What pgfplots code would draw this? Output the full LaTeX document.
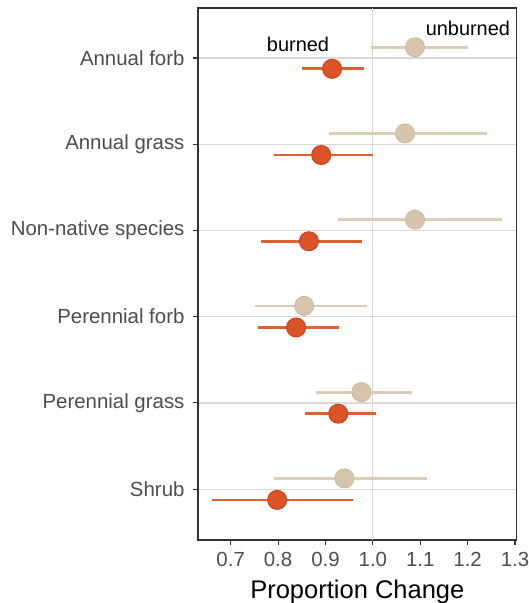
\documentclass[border=0pt]{standalone}
\usepackage{fontspec}
\setmainfont{Liberation Sans}
\usepackage{pgfplots}
\pgfplotsset{compat=1.18}
\definecolor{burn}{HTML}{DA5428}
\definecolor{burnedge}{HTML}{CC4217}
\definecolor{burnline}{HTML}{E0602F}
\definecolor{unb}{HTML}{D6C4AD}
\definecolor{unbedge}{HTML}{CFBBA2}
\definecolor{unbline}{HTML}{DCCCB8}
\definecolor{gridc}{HTML}{D9D9D9}
\definecolor{framec}{HTML}{333333}
\definecolor{tickc}{HTML}{4D4D4D}
\begin{document}
\begin{tikzpicture}
\begin{axis}[
  scale only axis, width=318.7bp, height=532bp,
  xmin=0.631, xmax=1.3036, ymin=0.41, ymax=6.58,
  xtick={0.7,0.8,0.9,1.0,1.1,1.2,1.3},
  xticklabels={0.7,0.8,0.9,1.0,1.1,1.2,1.3},
  ytick={1,2,3,4,5,6},
  yticklabels={Shrub,Perennial grass,Perennial forb,Non-native species,Annual grass,Annual forb},
  ymajorgrids, grid style={gridc, line width=1.2bp},
  tick align=outside, major tick length=5bp, tick pos=left,
  tick style={framec, line width=1.1bp},
  axis line style={framec, line width=1.2bp},
  ticklabel style={font=\fontsize{20.5}{21}\selectfont, text=tickc},
  yticklabel style={xshift=-5bp},
  xticklabel style={yshift=-4bp},
  xlabel={Proportion Change},
  xlabel style={font=\fontsize{25.6}{26}\selectfont, text=black, yshift=-6bp},
  unbounded coords=jump,
]
\addplot[gridc, line width=1.2bp] coordinates {(1,0.41) (1,6.58)};
% unburned intervals
\addplot[unbline, line width=2.8bp] coordinates {
 (0.996,6.125) (1.200,6.125) (nan,nan)
 (0.907,5.125) (1.241,5.125) (nan,nan)
 (0.927,4.125) (1.273,4.125) (nan,nan)
 (0.751,3.125) (0.988,3.125) (nan,nan)
 (0.880,2.125) (1.083,2.125) (nan,nan)
 (0.791,1.125) (1.115,1.125)
};
% burned intervals
\addplot[burnline, line width=2.8bp] coordinates {
 (0.850,5.875) (0.982,5.875) (nan,nan)
 (0.791,4.875) (1.001,4.875) (nan,nan)
 (0.765,3.875) (0.978,3.875) (nan,nan)
 (0.758,2.875) (0.928,2.875) (nan,nan)
 (0.857,1.875) (1.006,1.875) (nan,nan)
 (0.661,0.875) (0.959,0.875)
};
% unburned points
\addplot[only marks, mark=*, mark size=9.5bp, mark options={fill=unb, draw=unbedge, line width=1bp}] coordinates {
 (1.089,6.125) (1.068,5.125) (1.089,4.125) (0.855,3.125) (0.976,2.125) (0.940,1.125)
};
% burned points
\addplot[only marks, mark=*, mark size=9.5bp, mark options={fill=burn, draw=burnedge, line width=1bp}] coordinates {
 (0.914,5.875) (0.891,4.875) (0.865,3.875) (0.838,2.875) (0.927,1.875) (0.798,0.875)
};
\node[anchor=base, font=\fontsize{20}{21}\selectfont, inner sep=0pt] at (axis cs:0.842,6.07) {burned};
\node[anchor=base, font=\fontsize{20}{21}\selectfont, inner sep=0pt] at (axis cs:1.2006,6.259) {unburned};
\end{axis}
\pgfresetboundingbox
\path (current axis.south west) ++(-198bp,-63bp) rectangle ++(529bp,603bp);
\end{tikzpicture}
\end{document}
